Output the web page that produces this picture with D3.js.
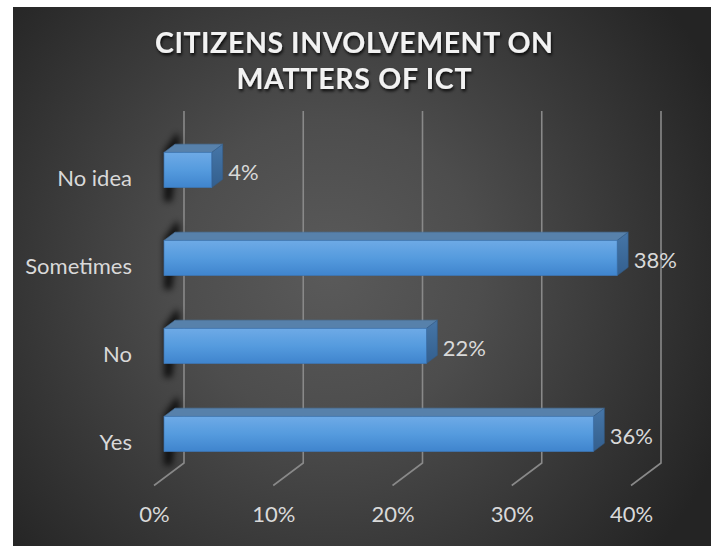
<!DOCTYPE html>
<html>
<head>
<meta charset="utf-8">
<script src="https://cdn.jsdelivr.net/npm/d3@7"></script>
<style>
  html, body { margin: 0; padding: 0; background: #ffffff; }
  svg { display: block; }
  text { font-family: Lato, "Open Sans", sans-serif; }
</style>
</head>
<body>
<svg id="chart" width="711" height="546"></svg>
<script>
// Survey answers and their shares
const categories = ["No idea", "Sometimes", "No", "Yes"];
const values = [0.04, 0.38, 0.22, 0.36];
const tickValues = [0, 0.1, 0.2, 0.3, 0.4];
const titleLines = ["CITIZENS INVOLVEMENT ON", "MATTERS OF ICT"];

const svg = d3.select("#chart");
const W = 711, H = 546;
const labelSize = 22;

// Layout of the 3-D box: back wall plus a depth vector toward the viewer
const wall = { left: 184, right: 661, top: 111, bottom: 463 };
const depth = { dx: -30, dy: 22.5 };          // full depth of the floor
const dFront = 2 / 3, dBack = 0.3;            // bar front/back as fractions of depth
const off = d => [depth.dx * d, depth.dy * d];

const x = d3.scaleLinear().domain([0, 0.4]).range([wall.left, wall.right]);
const y = d3.scaleBand().domain(categories)
  .range([wall.top, wall.bottom]).paddingInner(0.6).paddingOuter(0.3);

const defs = svg.append("defs");

// Panel background: dark radial glow
const bg = defs.append("radialGradient").attr("id", "bg")
  .attr("gradientUnits", "userSpaceOnUse")
  .attr("cx", 330).attr("cy", 270).attr("r", 430);
bg.append("stop").attr("offset", 0).attr("stop-color", "#5a5a5a");
bg.append("stop").attr("offset", 0.35).attr("stop-color", "#4d4d4d");
bg.append("stop").attr("offset", 1).attr("stop-color", "#242424");

const front = defs.append("linearGradient").attr("id", "barFront")
  .attr("x1", 0).attr("y1", 0).attr("x2", 0).attr("y2", 1);
front.append("stop").attr("offset", 0).attr("stop-color", "#6eaae6");
front.append("stop").attr("offset", 0.5).attr("stop-color", "#559bde");
front.append("stop").attr("offset", 1).attr("stop-color", "#3f84cd");

const side = defs.append("linearGradient").attr("id", "barSide")
  .attr("x1", 0).attr("y1", 0).attr("x2", 0).attr("y2", 1);
side.append("stop").attr("offset", 0).attr("stop-color", "#4676a8");
side.append("stop").attr("offset", 1).attr("stop-color", "#335f8e");

defs.append("filter").attr("id", "soft")
  .attr("x", "-50%").attr("y", "-50%").attr("width", "200%").attr("height", "200%")
  .append("feGaussianBlur").attr("stdDeviation", 3);

const ts = defs.append("filter").attr("id", "titleShadow")
  .attr("x", "-10%").attr("y", "-30%").attr("width", "120%").attr("height", "160%");
ts.append("feDropShadow").attr("dx", 1).attr("dy", 2.2).attr("stdDeviation", 1.4)
  .attr("flood-color", "#000").attr("flood-opacity", 0.85);

svg.append("rect").attr("x", 13).attr("y", 7).attr("width", W - 13).attr("height", H - 7)
  .attr("fill", "url(#bg)");

// Title
const title = svg.append("g").attr("filter", "url(#titleShadow)");
const titleWidths = [398, 235];
titleLines.forEach((t, i) => {
  title.append("text")
    .attr("x", 354).attr("y", 53 + i * 36)
    .attr("text-anchor", "middle")
    .attr("font-size", 28.5).attr("font-weight", 700)
    .attr("fill", "#f2f2f2")
    .attr("textLength", titleWidths[i]).attr("lengthAdjust", "spacing")
    .text(t);
});

// Gridlines: vertical on the back wall, then across the floor to the front
const grid = svg.append("g").attr("stroke", "#898989").attr("stroke-width", 1.6).attr("fill", "none");
grid.selectAll("path").data(tickValues).join("path")
  .attr("d", v => {
    const [fx, fy] = off(1);
    return `M${x(v)},${wall.top}V${wall.bottom}L${x(v) + fx},${wall.bottom + fy}`;
  });

// Bars
const bars = svg.append("g");
categories.forEach((c, i) => {
  const v = values[i];
  const [fx, fy] = off(dFront), [bx, by] = off(dBack);
  const x0 = x(0) + fx, x1 = x(v) + fx;
  const top = y(c) + fy, bot = top + y.bandwidth();
  const ddx = bx - fx, ddy = by - fy;
  const g = bars.append("g");

  // soft shadow cast at the wall end of the bar
  g.append("path")
    .attr("d", `M${x0},${top - 2}L${x0 + ddx + 2},${top + ddy - 12}L${x0 + ddx + 5},${top + ddy - 4}` +
               `L${x0 + 8},${bot + 14}L${x0},${bot + 14}Z`)
    .attr("fill", "#000").attr("opacity", 0.75).attr("filter", "url(#soft)");

  // top face
  g.append("path")
    .attr("d", `M${x0},${top}L${x1},${top}L${x1 + ddx},${top + ddy}L${x0 + ddx},${top + ddy}Z`)
    .attr("fill", "#5781ab").attr("stroke", "#4a76a3").attr("stroke-width", 0.6);
  // end face
  g.append("path")
    .attr("d", `M${x1},${top}L${x1 + ddx},${top + ddy}L${x1 + ddx},${bot + ddy}L${x1},${bot}Z`)
    .attr("fill", "url(#barSide)").attr("stroke", "#335d8a").attr("stroke-width", 0.6);
  // front face
  g.append("rect")
    .attr("x", x0).attr("y", top).attr("width", x1 - x0).attr("height", bot - top)
    .attr("fill", "url(#barFront)").attr("stroke", "#3e76b2").attr("stroke-width", 0.7);

  // value label
  g.append("text")
    .attr("x", x1 + ddx + 5.5).attr("y", (top + bot) / 2 + 9.5)
    .attr("font-size", labelSize).attr("fill", "#d9d9d9")
    .text(d3.format(".0%")(v));
});

// Category labels along the front-left edge
svg.append("g").selectAll("text").data(categories).join("text")
  .attr("x", 132).attr("y", c => y(c) + y.bandwidth() / 2 + 31)
  .attr("text-anchor", "end").attr("font-size", labelSize).attr("fill", "#d9d9d9")
  .text(c => c);

// Value axis labels at the front of the floor
const [ax, ay] = off(1);
const xFront = d3.scaleLinear().domain(x.domain()).range(x.range().map(r => r + ax));
const axis = svg.append("g").attr("transform", `translate(0,${wall.bottom + ay})`)
  .call(d3.axisBottom(xFront).tickValues(tickValues).tickFormat(d3.format(".0%")).tickSize(0).tickPadding(21));
axis.select(".domain").remove();
axis.selectAll("text").attr("font-size", labelSize).attr("fill", "#d9d9d9")
  .attr("font-family", "Lato, 'Open Sans', sans-serif");
</script>
</body>
</html>
